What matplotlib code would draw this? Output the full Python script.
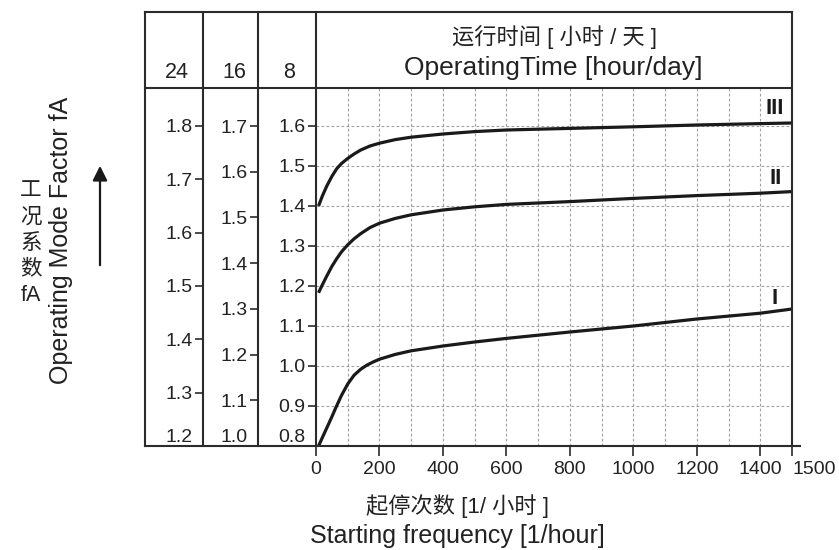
import numpy as np
import matplotlib.pyplot as plt
from matplotlib.lines import Line2D

plt.rcParams['font.family'] = ['Liberation Sans', 'Noto Sans CJK SC', 'DejaVu Sans']

# starting frequency [1/hour] vs operating mode factor (read on the 8 h/day scale)
freq_I = [8, 20, 35, 50, 62, 80, 100, 120, 141, 160, 180, 200, 250, 300, 400, 500, 600,
          800, 1000, 1200, 1400, 1500]
fa_I = [0.80, 0.821, 0.847, 0.873, 0.895, 0.926, 0.955, 0.977, 0.992, 1.002, 1.010, 1.017,
        1.029, 1.038, 1.05, 1.06, 1.069, 1.085, 1.10, 1.1175, 1.132, 1.1425]

freq_II = [8, 20, 34, 50, 65, 80, 100, 120, 141, 170, 200, 250, 300, 400, 500, 600, 800,
           1000, 1200, 1400, 1500]
fa_II = [1.183, 1.203, 1.225, 1.249, 1.268, 1.285, 1.303, 1.318, 1.331, 1.346, 1.357, 1.369,
         1.378, 1.39, 1.398, 1.404, 1.411, 1.419, 1.426, 1.432, 1.436]

freq_III = [8, 20, 34, 50, 65, 80, 100, 120, 141, 170, 200, 250, 300, 400, 500, 600, 800,
            1000, 1200, 1400, 1500]
fa_III = [1.40, 1.425, 1.45, 1.474, 1.493, 1.506, 1.519, 1.530, 1.540, 1.550, 1.557, 1.566,
          1.572, 1.58, 1.586, 1.59, 1.594, 1.598, 1.6025, 1.606, 1.6075]

curve_names = ['I', 'II', 'III']

xticks = [0, 200, 400, 600, 800, 1000, 1200, 1400, 1500]
ticks_8 = [0.8, 0.9, 1.0, 1.1, 1.2, 1.3, 1.4, 1.5, 1.6]
ticks_16 = [1.0, 1.1, 1.2, 1.3, 1.4, 1.5, 1.6, 1.7]
ticks_24 = [1.2, 1.3, 1.4, 1.5, 1.6, 1.7, 1.8]
hours = ['24', '16', '8']

title_cn = '运行时间 [ 小时 / 天 ]'
title_en = 'OperatingTime [hour/day]'
xlabel_cn = '起停次数 [1/ 小时 ]'
xlabel_en = 'Starting frequency [1/hour]'
ylabel_cn = '工\n况\n系\n数\nfA'
ylabel_en = 'Operating Mode Factor fA'

W, H = 839, 550
fig = plt.figure(figsize=(W / 100, H / 100), dpi=100)


def fx(px):
    return px / W


def fy(py):
    return 1 - py / H


frame = '#2b2b2b'
ink = '#1a1a1a'
txt = '#222222'
tick_size = 14

ax = fig.add_axes([fx(316), fy(446), fx(792) - fx(316), fy(88) - fy(446)])
ax.set_xlim(0, 1500)
ax.set_ylim(0.8, 1.695)

ax.plot(freq_I, fa_I, color=ink, lw=2.3, solid_capstyle='butt')
ax.plot(freq_II, fa_II, color=ink, lw=2.3, solid_capstyle='butt')
ax.plot(freq_III, fa_III, color=ink, lw=2.3, solid_capstyle='butt')

ax.set_xticks(xticks)
ax.set_xticklabels([str(t) for t in xticks])
ax.set_xticks(np.arange(0, 1500, 100), minor=True)
ax.set_yticks(ticks_8)
ax.set_yticklabels(['%.1f' % t for t in ticks_8])
ax.tick_params(which='minor', length=0)
ax.tick_params(axis='x', direction='out', length=7, width=1.2, color=frame,
               labelsize=tick_size, labelcolor=txt, pad=4)
ax.tick_params(axis='y', direction='out', length=6, width=1.2, color=frame,
               labelsize=tick_size, labelcolor=txt, pad=1.5)
ax.grid(True, which='both', axis='x', ls=(0, (2.5, 2)), color='#a0a0a0', lw=0.8)
ax.grid(True, which='major', axis='y', ls=(0, (2.5, 2)), color='#a0a0a0', lw=0.8)
for s in ax.spines.values():
    s.set_visible(False)

ax.get_xticklabels()[-1].set_horizontalalignment('left')

# extra scales for 16 h and 24 h a day
span = fx(792) - fx(316)
ax16 = ax.secondary_yaxis((fx(258) - fx(316)) / span,
                          functions=(lambda v: 1.0 + (v - 0.8) * 0.875,
                                     lambda v: 0.8 + (v - 1.0) / 0.875))
ax24 = ax.secondary_yaxis((fx(203) - fx(316)) / span,
                          functions=(lambda v: 1.2 + (v - 0.8) * 0.75,
                                     lambda v: 0.8 + (v - 1.2) / 0.75))
ax16.set_yticks(ticks_16)
ax16.set_yticklabels(['%.1f' % t for t in ticks_16])
ax24.set_yticks(ticks_24)
ax24.set_yticklabels(['%.1f' % t for t in ticks_24])

for a in (ax, ax16, ax24):
    if a is not ax:
        a.tick_params(axis='y', direction='out', length=6, width=1.2, color=frame,
                      labelsize=tick_size, labelcolor=txt, pad=1.5)
        for s in a.spines.values():
            s.set_visible(False)
    first = a.yaxis.get_major_ticks()[0]
    first.tick1line.set_visible(False)
    first.label1.set_verticalalignment('bottom')

# curve names
ax.text(1446, 1.645, 'III', ha='center', va='center', fontsize=16, weight='bold', color=ink)
ax.text(1449, 1.47, 'II', ha='center', va='center', fontsize=16, weight='bold', color=ink)
ax.text(1446, 1.17, 'I', ha='center', va='center', fontsize=16, weight='bold', color=ink)

# table frame
lines = [((145, 792), (12, 12)), ((145, 792), (88, 88)), ((145, 800), (446, 446)),
         ((145, 145), (12, 446)), ((203, 203), (12, 446)), ((258, 258), (12, 446)),
         ((316, 316), (12, 446)), ((792, 792), (12, 446))]
for xs, ys in lines:
    fig.add_artist(Line2D([fx(xs[0]), fx(xs[1])], [fy(ys[0]), fy(ys[1])],
                          color=frame, lw=1.5, solid_capstyle='projecting'))

# header
for label, px in zip(hours, [177, 234, 289]):
    fig.text(fx(px), fy(72), label, ha='center', va='center', fontsize=15.5, color=txt)
fig.text(fx(554), fy(37), title_cn, ha='center', va='center', fontsize=16, color=txt)
fig.text(fx(553), fy(68), title_en, ha='center', va='center', fontsize=19, color=txt)

# axis labels
fig.text(fx(458), fy(506), xlabel_cn, ha='center', va='center', fontsize=16, color=txt)
fig.text(fx(457), fy(536), xlabel_en, ha='center', va='center', fontsize=18, color=txt)
fig.text(fx(61), fy(240), ylabel_en, ha='center', va='center', rotation=90,
         fontsize=18, color=txt)
fig.text(fx(31), fy(243), ylabel_cn, ha='center', va='center', fontsize=15.5,
         color=txt, linespacing=1.32, multialignment='center')
fig.add_artist(plt.Annotation('', xy=(fx(100), fy(163)), xytext=(fx(100), fy(268)),
                              xycoords='figure fraction', textcoords='figure fraction',
                              arrowprops=dict(arrowstyle='-|>', color=ink, lw=1.6,
                                              mutation_scale=22)))

fig.savefig('out.png', dpi=100)
